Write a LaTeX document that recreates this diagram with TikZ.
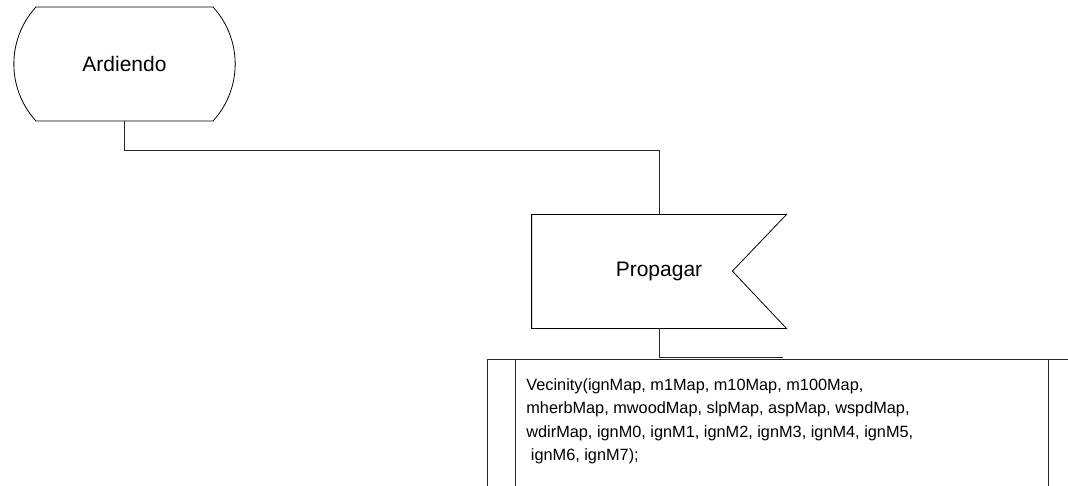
\documentclass[tikz,border=0pt]{standalone}
\usepackage{fontspec}
\setmainfont{Liberation Sans}
\usetikzlibrary{shapes.misc, positioning}
\tikzset{state node/.style={rounded rectangle, rounded rectangle arc length=85, draw, minimum width=228pt, minimum height=114pt, font=\fontsize{21}{25}\selectfont},
  signal node/.style={rectangle, minimum width=254pt, minimum height=113pt, font=\fontsize{21}{25}\selectfont},
  task node/.style={align=left, inner sep=0pt, anchor=north west, font=\fontsize{16.3}{23.4}\selectfont},
  wire/.style={draw=black!85}
}
\begin{document}
\begin{tikzpicture}[x=1pt, y=-1pt, line width=0.8pt]
          \clip (0,0) rectangle (1068,486);
          % State
          \node[state node] (ardiendo) at (124.5, 64) {Ardiendo};
          % Signal
          \node[signal node] (propagar) at (659, 271.5) {Propagar};
          \draw (propagar.north west) -- (propagar.north east) -- ++(-54, 56.5)
            -- (propagar.south east) -- (propagar.south west) -- cycle;
          \coordinate (fin) at (783, 357);
          % Task box
          \node[draw=black!85, minimum width=600pt, minimum height=160pt, anchor=north west] (tabla) at (487, 359) {};
          \draw[wire] (515, 359) -- (515, 500);
          \draw[wire] (1048, 359) -- (1048, 500);
          \node[task node] (vecinity) at (526, 378) {Vecinity(ignMap, m1Map, m10Map, m100Map,\\mherbMap, mwoodMap, slpMap, aspMap, wspdMap,\\wdirMap, ignM0, ignM1, ignM2, ignM3, ignM4, ignM5,\\\ ignM6, ignM7);};
          % Connections
          \draw[wire] (ardiendo.south) -- ++(0, 29) -| (propagar.north);
          \draw[wire] (propagar.south) |- (fin);
        \end{tikzpicture}
\end{document}
